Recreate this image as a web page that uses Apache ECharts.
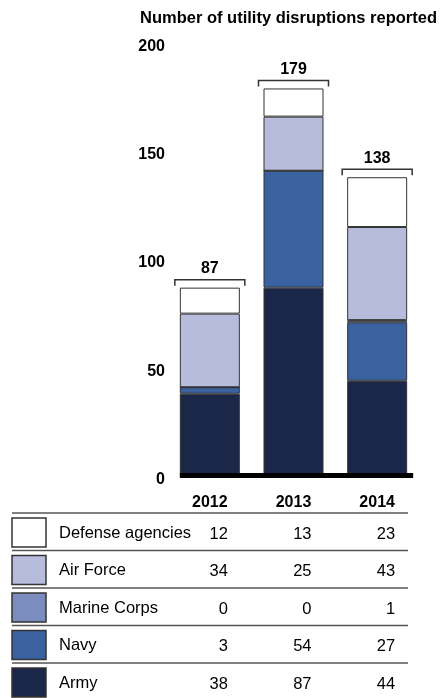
<!DOCTYPE html>
<html>
<head>
<meta charset="utf-8">
<script src="https://cdn.jsdelivr.net/npm/echarts@6/dist/echarts.min.js"></script>
<style>html,body{margin:0;padding:0;background:#fff}#c{width:440px;height:698px}</style>
</head>
<body>
<div id="c"></div>
<script>
const categories = ['2012', '2013', '2014'];
const army = [38, 87, 44];
const navy = [3, 54, 27];
const marineCorps = [0, 0, 1];
const airForce = [34, 25, 43];
const defenseAgencies = [12, 13, 23];
const totals = [87, 179, 138];
const yTicks = [0, 50, 100, 150, 200];
const title = 'Number of utility disruptions reported';

const FONT = '"Liberation Sans", Arial, sans-serif';
const BAR_W = 60;
const stackSeries = [
  { name: 'Army', data: army, color: '#1b2749' },
  { name: 'Navy', data: navy, color: '#3a62a0' },
  { name: 'Marine Corps', data: marineCorps, color: '#7b8cbf' },
  { name: 'Air Force', data: airForce, color: '#b8bcdc' },
  { name: 'Defense agencies', data: defenseAgencies, color: '#ffffff' }
];

const chart = echarts.init(document.getElementById('c'), null, { renderer: 'canvas' });

const series = stackSeries.map(s => ({
  name: s.name,
  type: 'bar',
  stack: 'total',
  barWidth: BAR_W,
  data: s.data,
  itemStyle: { color: s.color, borderColor: '#333', borderWidth: 1 },
  animation: false
}));

series.push({
  type: 'custom',
  name: 'totals',
  data: totals.map((t, i) => [i, t]),
  animation: false,
  z: 5,
  renderItem: function (params, api) {
    const p = api.coord([api.value(0), api.value(1)]);
    const half = BAR_W / 2 + 5;
    const yl = p[1] - 8;
    return {
      type: 'group',
      children: [
        {
          type: 'polyline',
          shape: { points: [[p[0] - half, yl + 6], [p[0] - half, yl], [p[0] + half, yl], [p[0] + half, yl + 6]] },
          style: { stroke: '#333', lineWidth: 1.5, fill: null }
        },
        {
          type: 'text',
          style: {
            text: String(api.value(1)),
            x: p[0], y: yl - 11,
            align: 'center', verticalAlign: 'middle',
            font: 'bold 16px ' + FONT, fill: '#000'
          }
        }
      ]
    };
  }
});

chart.setOption({
  animation: false,
  title: {
    text: title,
    left: 135, top: 5,
    textStyle: { fontFamily: FONT, fontWeight: 'bold', fontSize: 16.5, color: '#000' }
  },
  grid: { left: 168, right: 21, top: 43, bottom: 222 },
  xAxis: {
    type: 'category',
    data: categories,
    axisLine: { show: false },
    axisTick: { show: false },
    axisLabel: { margin: 19, fontFamily: FONT, fontWeight: 'bold', fontSize: 16, color: '#000' }
  },
  yAxis: {
    type: 'value',
    min: yTicks[0], max: yTicks[yTicks.length - 1], interval: yTicks[1] - yTicks[0],
    axisLine: { show: false },
    axisTick: { show: false },
    splitLine: { show: false },
    axisLabel: {
      margin: 3, color: '#000',
      formatter: '{a|{value}}',
      rich: { a: { fontFamily: FONT, fontWeight: 'bold', fontSize: 16, color: '#000', padding: [7, 0, 0, 0] } }
    }
  },
  series: series
});

// Baseline and table
const colX = categories.map((c, i) => chart.convertToPixel({ xAxisIndex: 0 }, i));
const y0 = chart.convertToPixel({ yAxisIndex: 0 }, 0);
const graphics = [];
graphics.push({
  type: 'rect',
  shape: { x: colX[0] - BAR_W / 2, y: y0 - 3, width: (colX[colX.length - 1] + BAR_W / 2 + 6) - (colX[0] - BAR_W / 2), height: 5 },
  style: { fill: '#000' },
  z: 10
});

const tableRows = stackSeries.slice().reverse();
const lineTop = 513;
const rowH = 37.5;
const tableLeft = 12, tableRight = 408;
for (let r = 0; r < tableRows.length; r++) {
  const ly = lineTop + r * rowH;
  graphics.push({
    type: 'line',
    shape: { x1: tableLeft, y1: ly, x2: tableRight, y2: ly },
    style: { stroke: '#555', lineWidth: 1.5 }
  });
  graphics.push({
    type: 'rect',
    shape: { x: tableLeft, y: ly + 5, width: 34, height: 29 },
    style: { fill: tableRows[r].color, stroke: '#333', lineWidth: 1.5 }
  });
  const ty = ly + 20;
  graphics.push({
    type: 'text',
    style: { text: tableRows[r].name, x: 59, y: ty, verticalAlign: 'middle', align: 'left', font: '16.5px ' + FONT, fill: '#000' }
  });
  tableRows[r].data.forEach((v, i) => {
    graphics.push({
      type: 'text',
      style: { text: String(v), x: colX[i] + 18, y: ty + 1, verticalAlign: 'middle', align: 'right', font: '16.5px ' + FONT, fill: '#000' }
    });
  });
}
chart.setOption({ graphic: graphics });
</script>
</body>
</html>
